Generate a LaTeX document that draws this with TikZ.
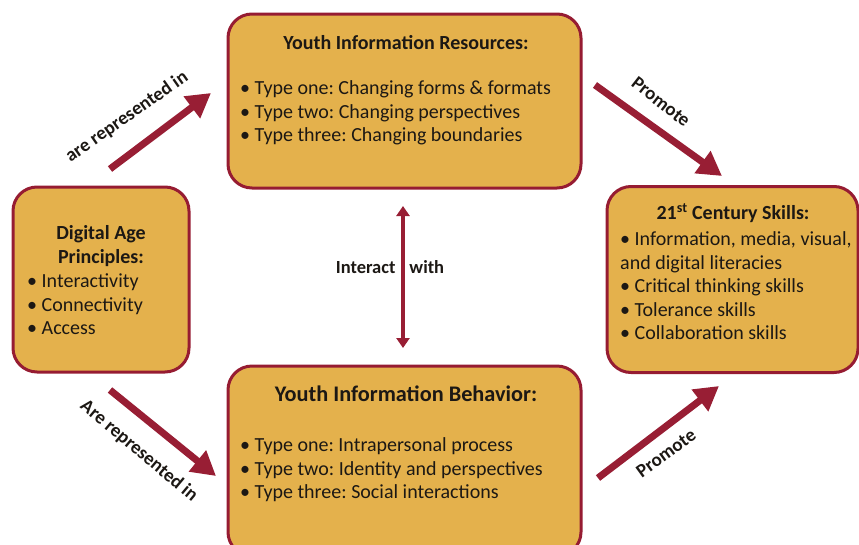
\documentclass[tikz,border=0pt]{standalone}
\usepackage{fontspec}
\setmainfont{Carlito}
\usetikzlibrary{arrows.meta}
\frenchspacing

\definecolor{boxfill}{RGB}{228,177,76}
\definecolor{boxline}{RGB}{150,28,50}
\definecolor{arrowred}{RGB}{152,30,52}
\definecolor{ink}{RGB}{28,24,20}

\tikzset{
  panel/.style={draw=boxline, line width=3pt, fill=boxfill, rounded corners=24pt, inner sep=0pt},
  heading/.style={text=ink, font=\bfseries\fontsize{20}{23.5}\selectfont, align=center, inner sep=0pt},
  bigheading/.style={text=ink, font=\bfseries\fontsize{22.3}{26}\selectfont, align=center, inner sep=0pt},
  items/.style={text=ink, font=\fontsize{20}{23.5}\selectfont, align=left, inner sep=0pt, anchor=north west},
  bigarrow/.style={draw=arrowred, line width=7pt, -{Triangle[length=24pt,width=26pt]}},
  linkarrow/.style={draw=arrowred, line width=4.5pt, {Triangle[length=10pt,width=13pt]}-{Triangle[length=10pt,width=13pt]}},
  arrowlabel/.style={text=ink, font=\bfseries\fontsize{19}{21}\selectfont, inner sep=0pt}
}

\begin{document}
\begin{tikzpicture}[x=1pt,y=-1pt]
  \useasboundingbox (0,0) rectangle (859,544);
  \clip (0,0) rectangle (859,544);

  % the four panels
  \node[panel, minimum width=353pt, minimum height=174pt] (res) at (404.5,101) {};
  \node[panel, minimum width=176pt, minimum height=185pt] (dap) at (101,279.5) {};
  \node[panel, minimum width=251pt, minimum height=186pt] (skl) at (732.5,279.5) {};
  \node[panel, minimum width=353pt, minimum height=190pt] (beh) at (404.5,461) {};

  % panel texts
  \node[heading] (resT) at (406,43) {Youth Information Resources:};
  \node[items] (resL) at (240,80.5) {• Type one: Changing forms \& formats\\• Type two: Changing perspectives\\• Type three: Changing boundaries};

  \node[heading] (dapT) at (101,246) {Digital Age\\Principles:};
  \node[items] (dapL) at (27,273.5) {• Interactivity\\• Connectivity\\• Access};

  \node[heading] (sklT) at (733,213) {21\textsuperscript{st} Century Skills:};
  \node[items] (sklL) at (620,231.5) {• Information, media, visual,\\and digital literacies\\• Critical thinking skills\\• Tolerance skills\\• Collaboration skills};

  \node[bigheading] (behT) at (406,394) {Youth Information Behavior:};
  \node[items] (behL) at (240,437.5) {• Type one: Intrapersonal process\\• Type two: Identity and perspectives\\• Type three: Social interactions};

  % arrow end points
  \coordinate (a1) at (110,169);
  \coordinate (a2) at (211,93);
  \coordinate (b1) at (595,85);
  \coordinate (b2) at (722,176);
  \coordinate (c1) at (110,390);
  \coordinate (c2) at (216,476);
  \coordinate (d1) at (598,478);
  \coordinate (d2) at (719,386);
  \coordinate (v1) at (403,206);
  \coordinate (v2) at (403,348);

  \draw[bigarrow] (a1) -- (a2);
  \draw[bigarrow] (b1) -- (b2);
  \draw[bigarrow] (c1) -- (c2);
  \draw[bigarrow] (d1) -- (d2);
  \draw[linkarrow] (v1) -- (v2);

  % connector labels
  \node[arrowlabel, rotate=35] (lab1) at (127,117) {are represented in};
  \node[arrowlabel, rotate=-38] (lab2) at (661,102) {Promote};
  \node[arrowlabel, rotate=-40] (lab3) at (139,451) {Are represented in};
  \node[arrowlabel, rotate=36] (lab4) at (666,453) {Promote};
  \node[arrowlabel, font=\bfseries\fontsize{18.5}{21}\selectfont] (lab5) at (390,267) {Interact\hspace{14pt}with};
\end{tikzpicture}
\end{document}
